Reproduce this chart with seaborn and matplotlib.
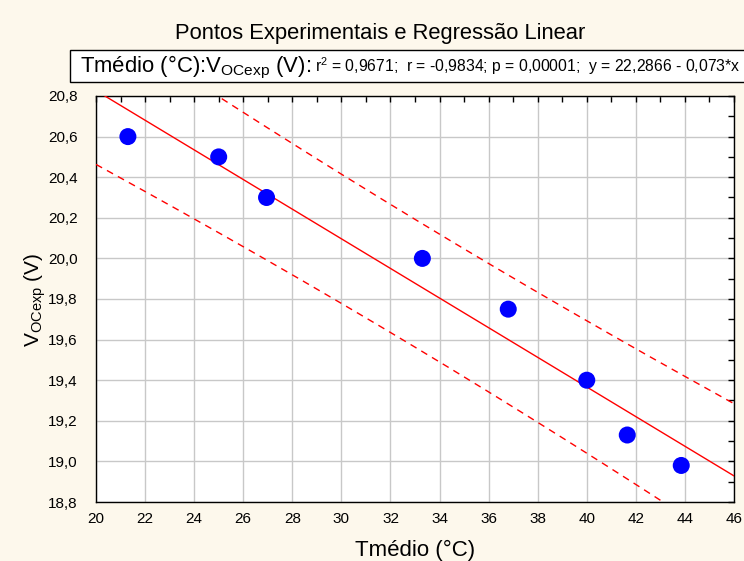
import matplotlib as mpl
mpl.use("Agg")
import matplotlib.pyplot as plt
import numpy as np
import pandas as pd
import seaborn as sns
from matplotlib.ticker import MultipleLocator, FuncFormatter

# data
t_medio = [21.3, 25.0, 26.95, 33.3, 36.8, 40.0, 41.65, 43.85]
v_ocexp = [20.60, 20.50, 20.30, 20.00, 19.75, 19.40, 19.13, 18.98]
intercept, slope = 22.2866, -0.073
stats_text = "r$^2$ = 0,9671;  r = -0,9834; p = 0,00001;  y = 22,2866 - 0,073*x"

df = pd.DataFrame({"x": t_medio, "y": v_ocexp})

sns.set_style("white")
plt.rcParams["font.family"] = ["Liberation Sans", "DejaVu Sans"]
plt.rcParams["mathtext.fontset"] = "custom"
plt.rcParams["mathtext.rm"] = "Liberation Sans"
plt.rcParams["mathtext.it"] = "Liberation Sans"
plt.rcParams["text.color"] = "black"
plt.rcParams["axes.labelcolor"] = "black"

bg = "#fdf8ec"
fig = plt.figure(figsize=(7.44, 5.61), dpi=100, facecolor=bg)
ax = fig.add_axes([96 / 744, 1 - 502 / 561, 638 / 744, 406 / 561])
ax.set_facecolor("white")

# regression line and 95% prediction bands
xs = np.linspace(20, 46, 200)
x_arr = np.array(t_medio)
y_arr = np.array(v_ocexp)
n = len(x_arr)
resid = y_arr - (intercept + slope * x_arr)
s = np.sqrt(np.sum(resid ** 2) / (n - 2))
t_val = 2.4469
band = t_val * s * np.sqrt(1 + 1 / n + (xs - x_arr.mean()) ** 2 / np.sum((x_arr - x_arr.mean()) ** 2))
fit = intercept + slope * xs
ax.plot(xs, fit, color="red", lw=1.0, zorder=3)
ax.plot(xs, fit + band, color="red", lw=1.0, ls=(0, (5, 4)), zorder=3)
ax.plot(xs, fit - band, color="red", lw=1.0, ls=(0, (5, 4)), zorder=3)

sns.scatterplot(data=df, x="x", y="y", color="#0000ff", s=150, edgecolor="none",
                ax=ax, zorder=4)

ax.set_xlim(20, 46)
ax.set_ylim(18.8, 20.8)
ax.xaxis.set_major_locator(MultipleLocator(2))
ax.xaxis.set_minor_locator(MultipleLocator(1))
ax.yaxis.set_major_locator(MultipleLocator(0.2))
ax.yaxis.set_minor_locator(MultipleLocator(0.1))
ax.xaxis.set_major_formatter(FuncFormatter(lambda v, p: f"{v:.0f}"))
ax.yaxis.set_major_formatter(FuncFormatter(lambda v, p: f"{v:.1f}".replace(".", ",")))
ax.tick_params(which="both", direction="in", top=True, right=True, length=4,
               width=1, colors="black", labelsize=11)
ax.tick_params(axis="x", pad=7)
ax.tick_params(axis="y", pad=13)
ax.grid(True, which="major", color="#c8c8c8", lw=1)
for sp in ax.spines.values():
    sp.set_color("black")
    sp.set_linewidth(1)

ax.set_xlabel("")
ax.set_ylabel("")
fig.text(415 / 744, 1 - 550 / 561, "Tmédio (°C)", ha="center", va="center", fontsize=16)
fig.text(35 / 744, 1 - 300 / 561, "V$_{\\mathrm{OCexp}}$ (V)", ha="center", va="center",
         rotation=90, fontsize=15)

fig.text(380 / 744, 1 - 34 / 561, "Pontos Experimentais e Regressão Linear",
         ha="center", va="center", fontsize=15.8)
# legend-like box
fig.patches.append(mpl.patches.Rectangle((70 / 744, 1 - 82 / 561), 700 / 744, 32 / 561,
                                          transform=fig.transFigure, facecolor="white",
                                          edgecolor="black", lw=1))
fig.text(80 / 744, 1 - 67 / 561, "Tmédio (°C):V$_{\\mathrm{OCexp}}$ (V):",
         ha="left", va="center", fontsize=15.9)
fig.text(315 / 744, 1 - 66 / 561, stats_text, ha="left", va="center", fontsize=11.3)

fig.savefig("out.png", dpi=100, facecolor=bg)
